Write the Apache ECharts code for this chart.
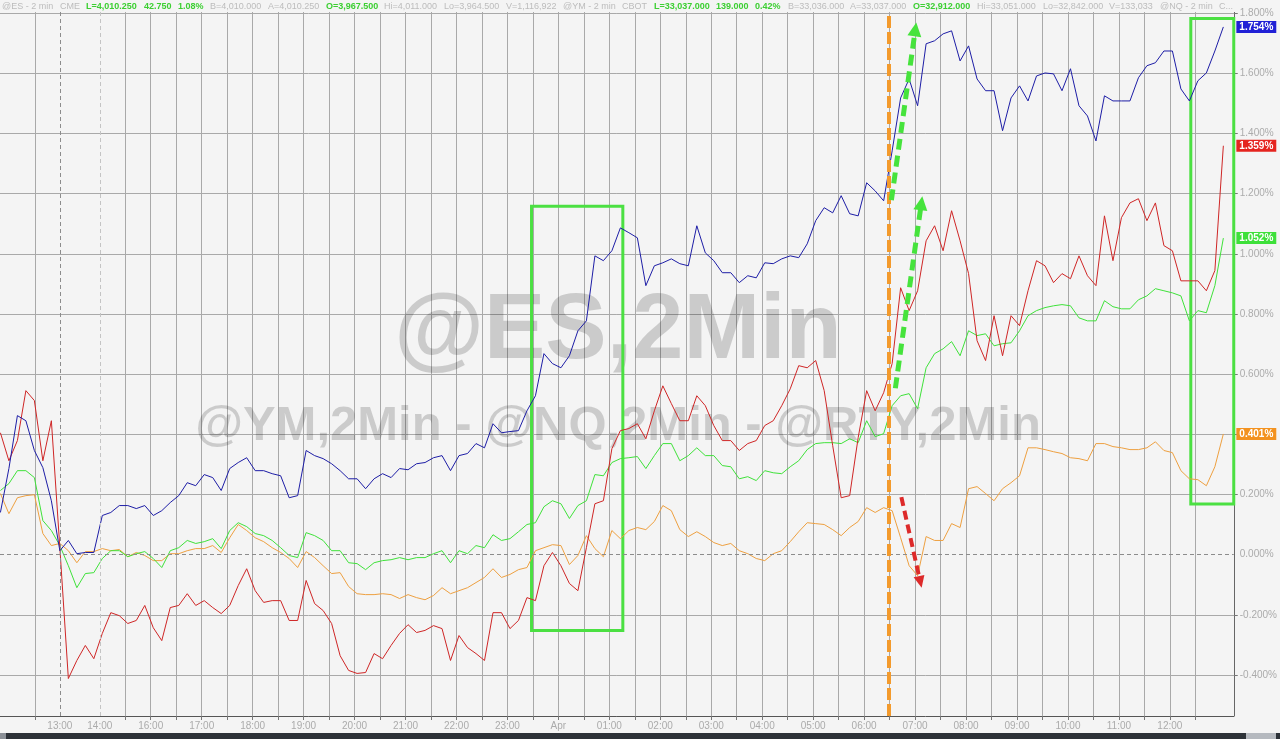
<!DOCTYPE html>
<html><head><meta charset="utf-8">
<script src="https://cdn.jsdelivr.net/npm/echarts@6/dist/echarts.min.js"></script>
<style>html,body{margin:0;padding:0;background:#f4f4f4;}#c{width:1280px;height:739px;}</style>
</head><body><div id="c"></div>
<script>
// x positions: display hours (session gaps removed); one sample every 10 minutes
const X0 = 13.05, STEP = 1 / 6;

const nqPct = [0.140,0.286,0.462,0.445,0.346,0.289,0.179,0.013,0.047,0.003,
0.007,0.007,0.130,0.140,0.163,0.163,0.153,0.163,0.130,0.146,
0.173,0.196,0.239,0.229,0.266,0.256,0.213,0.286,0.306,0.322,
0.279,0.279,0.269,0.262,0.189,0.196,0.346,0.329,0.319,0.302,
0.279,0.252,0.252,0.219,0.252,0.269,0.256,0.286,0.282,0.302,
0.306,0.322,0.329,0.279,0.329,0.336,0.369,0.355,0.435,0.405,
0.409,0.412,0.478,0.528,0.668,0.635,0.621,0.661,0.744,0.777,
0.993,0.977,1.010,1.086,1.070,1.053,0.894,0.960,0.970,0.983,
0.967,0.960,1.093,1.003,0.977,0.937,0.937,0.904,0.927,0.920,
0.970,0.967,0.983,0.993,0.987,1.033,1.110,1.153,1.136,1.193,
1.133,1.126,1.236,1.209,1.176,1.342,1.518,1.581,1.492,1.698,
1.708,1.731,1.741,1.641,1.691,1.581,1.542,1.542,1.409,1.518,
1.558,1.508,1.591,1.601,1.598,1.542,1.615,1.492,1.458,1.375,
1.525,1.508,1.508,1.508,1.585,1.625,1.635,1.674,1.674,1.548,
1.508,1.575,1.601,1.674,1.754];

const rtyPct = [0.405,0.312,0.379,0.545,0.512,0.312,0.445,0.023,-0.412,-0.352,
-0.302,-0.346,-0.262,-0.193,-0.203,-0.229,-0.219,-0.169,-0.243,-0.286,
-0.176,-0.169,-0.130,-0.169,-0.153,-0.176,-0.196,-0.169,-0.103,-0.047,
-0.120,-0.159,-0.153,-0.153,-0.219,-0.219,-0.086,-0.163,-0.186,-0.229,
-0.336,-0.385,-0.395,-0.392,-0.329,-0.346,-0.302,-0.262,-0.233,-0.259,
-0.252,-0.236,-0.246,-0.352,-0.269,-0.309,-0.329,-0.352,-0.193,-0.193,
-0.246,-0.219,-0.143,-0.153,-0.037,0.007,-0.037,-0.096,-0.120,0.023,
0.169,0.179,0.352,0.412,0.419,0.435,0.385,0.478,0.561,0.502,
0.445,0.445,0.528,0.495,0.429,0.379,0.379,0.346,0.369,0.379,
0.429,0.445,0.495,0.551,0.628,0.621,0.645,0.545,0.362,0.189,
0.196,0.389,0.545,0.478,0.538,0.635,0.887,0.811,0.877,1.043,
1.093,1.010,1.143,1.043,0.934,0.711,0.645,0.794,0.661,0.794,
0.761,0.877,0.977,0.960,0.904,0.934,0.917,0.993,0.927,0.894,
1.126,0.977,1.120,1.169,1.183,1.110,1.169,1.027,1.010,0.910,
0.910,0.910,0.877,0.944,1.359];

const esPct = [0.213,0.236,0.279,0.279,0.256,0.113,0.080,0.030,-0.037,-0.110,
-0.063,-0.060,-0.013,0.013,0.013,-0.007,0.003,0.010,-0.013,-0.043,
0.013,0.023,0.047,0.037,0.043,0.053,0.020,0.080,0.106,0.093,
0.070,0.063,0.047,0.023,-0.003,-0.010,0.073,0.063,0.047,0.013,
0.013,-0.027,-0.030,-0.050,-0.027,-0.020,-0.017,-0.010,-0.017,-0.010,
-0.010,0.003,0.013,-0.027,0.013,0.003,0.030,0.023,0.066,0.047,
0.053,0.076,0.100,0.106,0.159,0.179,0.169,0.120,0.163,0.179,
0.266,0.262,0.306,0.319,0.322,0.326,0.286,0.329,0.369,0.369,
0.312,0.329,0.355,0.329,0.329,0.296,0.292,0.252,0.259,0.246,
0.279,0.272,0.269,0.292,0.312,0.349,0.369,0.372,0.372,0.369,
0.385,0.372,0.445,0.392,0.402,0.495,0.528,0.535,0.485,0.621,
0.668,0.684,0.708,0.661,0.744,0.728,0.734,0.694,0.701,0.704,
0.744,0.794,0.811,0.821,0.827,0.831,0.827,0.787,0.777,0.777,
0.844,0.824,0.817,0.817,0.847,0.860,0.884,0.877,0.870,0.860,
0.777,0.811,0.804,0.894,1.052];

const ymPct = [0.203,0.136,0.189,0.196,0.199,0.070,0.030,0.037,0.013,-0.027,
0.010,0.010,0.020,0.013,0.017,-0.007,0.007,-0.003,-0.020,-0.020,
0.003,0.003,0.013,0.020,0.020,0.030,0.007,0.056,0.100,0.080,
0.056,0.043,0.023,0.007,-0.013,-0.043,0.010,-0.010,-0.037,-0.063,
-0.060,-0.106,-0.130,-0.133,-0.133,-0.130,-0.133,-0.146,-0.133,-0.143,
-0.150,-0.136,-0.110,-0.130,-0.120,-0.110,-0.093,-0.076,-0.047,-0.076,
-0.066,-0.050,-0.043,0.013,0.023,0.033,0.030,-0.033,-0.003,0.063,
0.020,-0.007,0.080,0.053,0.080,0.090,0.083,0.110,0.163,0.146,
0.083,0.060,0.076,0.060,0.040,0.030,0.037,0.013,0.003,-0.013,
-0.020,0.003,0.013,0.043,0.076,0.106,0.103,0.100,0.083,0.063,
0.090,0.110,0.156,0.140,0.156,0.146,0.056,-0.037,-0.070,0.060,
0.047,0.047,0.103,0.090,0.219,0.226,0.203,0.179,0.219,0.239,
0.262,0.355,0.355,0.349,0.342,0.336,0.322,0.319,0.312,0.369,
0.369,0.359,0.355,0.349,0.349,0.355,0.375,0.346,0.339,0.279,
0.252,0.249,0.229,0.292,0.401];

// x-axis labels (display-hour positions) and grid
const xLabelPos = [14.217, 15, 16, 17, 18, 19, 20, 21, 22, 23, 24, 25, 26, 27, 28, 29, 30, 31, 32, 33, 34, 35, 36];
const xLabelText = ['13:00','14:00','16:00','17:00','18:00','19:00','20:00','21:00','22:00','23:00','Apr','01:00','02:00','03:00','04:00','05:00','06:00','07:00','08:00','09:00','10:00','11:00','12:00'];
const xSessionBreaks = [14.217, 15];
const xGridPos = [13.737];
for (let h = 15.5; h <= 36.5; h += 0.5) xGridPos.push(h);

// y-axis ticks (percent)
const yTickVals = [-0.4, -0.2, 0, 0.2, 0.4, 0.6, 0.8, 1.0, 1.2, 1.4, 1.6, 1.8];
const yGridVals = yTickVals.filter(v => v !== 0);

// annotations: highlight boxes [[x1,y1],[x2,y2]], event line, arrows
const boxes = [[[23.473, 1.158], [25.265, -0.252]], [[36.411, 1.782], [37.30, 0.168]]];
const eventLine = 30.476;
const greenArrows = [[[30.535, 1.178], [31.005, 1.746]], [[30.613, 0.553], [31.123, 1.168]]];
const redArrows = [[[30.731, 0.191], [31.103, -0.091]]];

// quote header items: [style, text]  (b = highlighted value)
const header = [
  ['g', '@ES - 2 min'], ['g', 'CME'], ['b', 'L=4,010.250'], ['b', '42.750'], ['b', '1.08%'],
  ['g', 'B=4,010.000'], ['g', 'A=4,010.250'], ['b', 'O=3,967.500'], ['g', 'Hi=4,011.000'],
  ['g', 'Lo=3,964.500'], ['g', 'V=1,116,922'], ['g', '@YM - 2 min'], ['g', 'CBOT'],
  ['b', 'L=33,037.000'], ['b', '139.000'], ['b', '0.42%'], ['g', 'B=33,036.000'],
  ['g', 'A=33,037.000'], ['b', 'O=32,912.000'], ['g', 'Hi=33,051.000'], ['g', 'Lo=32,842.000'],
  ['g', 'V=133,033'], ['g', '@NQ - 2 min'], ['g', 'C...']
];

const FONT = '"Liberation Sans", Arial, sans-serif';
const toPairs = arr => arr.map((v, i) => [X0 + i * STEP, v]);

function mkSeries(name, data, lineColor, tagColor, extra) {
  return Object.assign({
    name, type: 'line', data: toPairs(data), showSymbol: false, symbol: 'none', clip: false,
    lineStyle: { color: lineColor, width: 1 }, itemStyle: { color: lineColor },
    endLabel: {
      show: true, distance: 13, formatter: p => p.value[1].toFixed(3) + '%',
      backgroundColor: tagColor, color: '#fff', fontWeight: 'bold', fontSize: 10,
      fontFamily: FONT, padding: [1, 3, 1, 3]
    }
  }, extra || {});
}

// lay out header items evenly between left edge and axis
const hdrFont = s => (s === 'b' ? 'bold ' : '') + '9px ' + FONT;
const mctx = document.createElement('canvas').getContext('2d');
const widths = header.map(h => { mctx.font = hdrFont(h[0]); return mctx.measureText(h[1]).width; });
const HL = 2, HR = 1233;
const gap = (HR - HL - widths.reduce((a, b) => a + b, 0)) / (header.length - 1);
let hx = HL;
const headerGraphics = header.map((h, i) => {
  const g = { type: 'text', z: 51, x: Math.round(hx), y: 7,
    style: { text: h[1], verticalAlign: 'middle', align: 'left', font: hdrFont(h[0]),
      fill: h[0] === 'b' ? '#3ccf32' : '#bcbcbc' } };
  hx += widths[i] + gap;
  return g;
});

const graphics = [
  { type: 'text', z: 1, x: 618, y: 333, style: { text: '@ES,2Min', font: 'bold 92px ' + FONT, fill: 'rgba(0,0,0,0.17)', align: 'center', verticalAlign: 'middle' } },
  { type: 'text', z: 1, x: 618, y: 426, style: { text: '@YM,2Min - @NQ,2Min - @RTY,2Min', font: 'bold 49px ' + FONT, fill: 'rgba(0,0,0,0.17)', align: 'center', verticalAlign: 'middle' } },
  { type: 'rect', z: 50, shape: { x: 0, y: 0, width: 1236, height: 12 }, style: { fill: '#f4f4f4' } },
  { type: 'rect', z: 50, shape: { x: 0, y: 733, width: 1280, height: 6 }, style: { fill: '#2d3238' } },
  { type: 'rect', z: 51, shape: { x: 0, y: 733, width: 6, height: 6 }, style: { fill: '#8b9097' } },
  { type: 'rect', z: 51, shape: { x: 1246, y: 733, width: 30, height: 6 }, style: { fill: '#b5b9bf' } }
].concat(headerGraphics);

const chart = echarts.init(document.getElementById('c'), null, { renderer: 'canvas' });
chart.setOption({
  backgroundColor: '#f4f4f4',
  animation: false,
  grid: { left: 0, right: 44, top: 0, bottom: 23, containLabel: false },
  xAxis: {
    type: 'value', min: 13.042, max: 37.254,
    axisLine: { show: true, onZero: false, lineStyle: { color: '#555', width: 1 } },
    axisTick: { show: true, length: 4, customValues: xGridPos, lineStyle: { color: '#777' } },
    axisLabel: {
      customValues: xLabelPos, color: '#ababab', fontSize: 10, fontFamily: FONT, margin: 5,
      formatter: v => { const k = xLabelPos.findIndex(p => Math.abs(p - v) < 0.01); return k >= 0 ? xLabelText[k] : ''; }
    },
    splitLine: { show: true, lineStyle: { color: '#a9a9a9', width: 1 } }
  },
  yAxis: {
    type: 'value', position: 'right', min: -0.5365, max: 1.8435,
    axisLine: { show: true, lineStyle: { color: '#666', width: 1 } },
    axisTick: { show: true, length: 4, customValues: yGridVals, lineStyle: { color: '#777' } },
    axisLabel: { customValues: yTickVals, color: '#ababab', fontSize: 10, fontFamily: FONT, margin: 6,
      formatter: v => v.toFixed(3) + '%' },
    splitLine: { show: true, lineStyle: { color: '#a9a9a9', width: 1 } }
  },
  graphic: graphics,
  series: [
    mkSeries('@YM', ymPct, '#eea040', '#f3921f', {
      markLine: {
        silent: true, animation: false, symbol: ['none', 'none'], label: { show: false },
        data: [
          { yAxis: 0, lineStyle: { color: '#8c8c8c', type: [4, 3], width: 1 } },
          { xAxis: xSessionBreaks[0], lineStyle: { color: '#8c8c8c', type: [4, 3], width: 1 } },
          { xAxis: xSessionBreaks[1], lineStyle: { color: '#c4c4c4', type: [4, 3], width: 1 } },
          { xAxis: eventLine, lineStyle: { color: '#f39a2c', type: [12, 4], width: 4 } }
        ].concat(greenArrows.map(a => [
          { coord: a[0], symbol: 'none', lineStyle: { color: '#46e33c', type: [11, 6], width: 5 } },
          { coord: a[1], symbol: 'triangle', symbolSize: [14, 14] }
        ])).concat(redArrows.map(a => [
          { coord: a[0], symbol: 'none', lineStyle: { color: '#dd2a2a', type: [9, 5], width: 4 } },
          { coord: a[1], symbol: 'triangle', symbolSize: [11, 12] }
        ]))
      },
      markArea: {
        silent: true,
        itemStyle: { color: 'rgba(0,0,0,0)', borderColor: '#4be042', borderWidth: 3 },
        data: boxes.map(b => [{ coord: b[0] }, { coord: b[1] }])
      }
    }),
    mkSeries('@ES', esPct, '#3fe23a', '#3ee03a'),
    mkSeries('@RTY', rtyPct, '#cf2626', '#e5241f'),
    mkSeries('@NQ', nqPct, '#1d1da6', '#2020d6')
  ]
});
</script></body></html>
